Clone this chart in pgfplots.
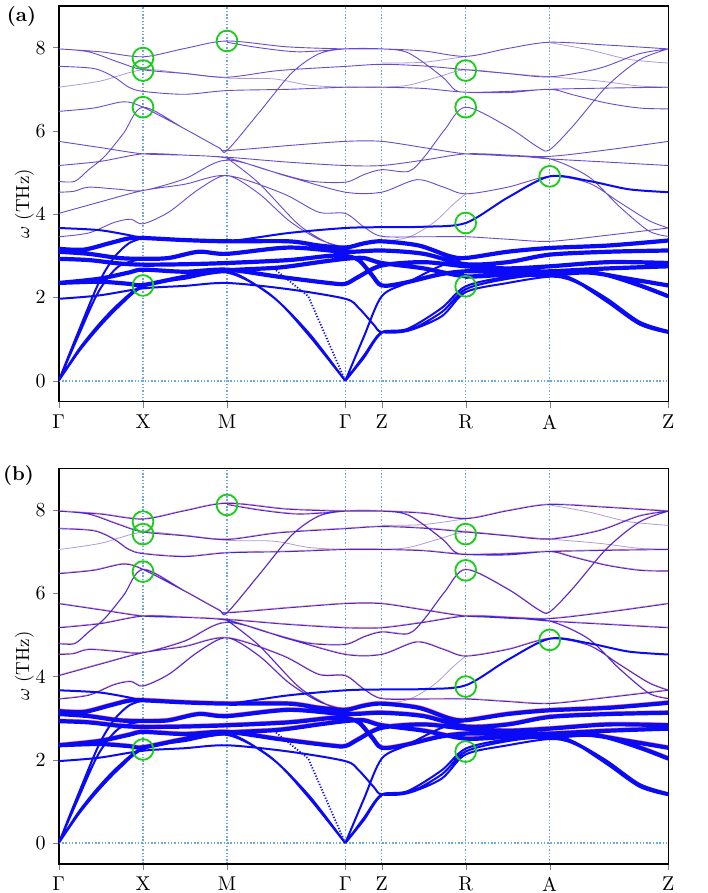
\documentclass[border=0pt]{standalone}
\usepackage{pgfplots}
\usepackage{pgfplotstable}
\pgfplotsset{compat=1.18}
\definecolor{thickblue}{RGB}{10,10,245}
\definecolor{bandpurple}{RGB}{105,75,205}
\definecolor{bandfaint}{RGB}{175,155,215}
\definecolor{gridblue}{RGB}{110,170,220}
\definecolor{ringgreen}{RGB}{25,205,25}

% upper optical branches (thin)
\pgfplotstableread{
s f
0 7.97
42 7.9
84.3 7.78
126 7.98
168.3 8.16
228 8.02
286.6 7.97
323 7.97
365 7.92
407 7.79
449 7.98
491 8.13
550 8.06
609.6 7.97
nan nan
168.3 8.13
200 8.0
240 7.9
286.6 7.97
nan nan
0 7.97
30 7.9
60 7.65
84.3 7.47
126 7.38
168.3 7.29
220 7.45
286.6 7.55
323 7.6
365 7.56
407 7.47
449 7.38
491 7.3
540 7.5
580 7.85
609.6 7.97
nan nan
0 7.55
35 7.5
55 7.3
70 7.05
84.3 6.95
126 6.88
168.3 6.97
230 7.0
286.6 7.05
323 7.05
365 7.02
407 6.93
449 6.95
491 7.0
550 7.03
609.6 7.05
nan nan
0 6.47
35 6.55
65 6.7
84.3 6.57
126 6.05
160 5.6
168.3 5.53
200 6.43
233 7.39
260 7.85
286.6 7.97
323 7.97
350 7.87
383 7.31
396 6.99
407 6.93
449 6.92
491 7.0
514 6.87
548 6.67
581 6.55
609.6 6.53
nan nan
0 4.79
16 4.79
30 5.07
46 5.39
65 5.95
84.3 6.57
126 6.05
160 5.6
168.3 5.53
230 5.65
286.6 5.75
323 5.75
365 5.6
407 5.45
449 5.42
491 5.39
550 5.55
609.6 5.75
nan nan
0 5.75
42 5.6
84.3 5.45
126 5.42
168.3 5.37
230 5.25
286.6 5.17
323 5.17
365 5.3
407 5.45
449 5.42
491 5.33
550 5.25
609.6 5.17
nan nan
0 5.17
42 5.27
84.3 5.45
126 5.42
168.3 5.35
210 5.05
250 4.8
286.6 4.77
305 4.95
323 5.07
350 5.03
366 5.39
386 6.03
407 6.57
449 6.1
480 5.6
491 5.55
514 6.11
548 7.07
581 7.71
609.6 7.97
nan nan
0 4.53
15 4.55
30 4.65
60 4.6
84.3 4.57
126 4.85
168.3 5.3
230 4.9
286.6 4.53
323 4.53
358 4.83
385 4.65
407 4.49
449 4.65
491 4.91
530 4.75
560 4.3
590 3.85
609.6 3.67
nan nan
0 4.02
42 4.3
84.3 4.57
126 4.72
168.3 4.93
224 4.5
260 4.05
286.6 4.02
305 3.7
323 3.47
365 3.46
407 3.46
449 3.4
491 3.35
550 3.5
609.6 3.67
nan nan
0 3.46
30 3.55
55 3.8
72 3.88
84.3 3.77
110 4.05
140 4.6
168.3 4.93
200 4.5
230 3.85
260 3.4
286.6 3.2
nan nan
168.3 5.35
200 4.75
240 3.75
270 3.3
286.6 3.17
nan nan
407 5.45
449 5.4
491 5.33
530 4.9
560 4.2
590 3.6
609.6 3.47
nan nan
}\thinbands

% faint branches
\pgfplotstableread{
s f
0 7.05
42 7.2
84.3 7.47
126 7.38
168.3 7.27
215 7.25
250 7.1
286.6 7.05
323 7.05
350 7.1
380 7.3
407 7.47
449 7.38
491 7.3
540 7.2
580 7.08
609.6 7.05
nan nan
323 7.63
365 7.65
407 7.79
nan nan
491 8.12
530 7.95
570 7.72
609.6 7.63
nan nan
323 3.35
350 3.45
375 3.8
395 4.25
407 4.49
nan nan
}\faintbands

% dense low branches (thick)
\pgfplotstableread{
s f
0 3.17
25 3.15
50 3.3
70 3.42
84.3 3.43
126 3.38
168.3 3.35
230 3.35
260 3.25
286.6 3.2
305 3.3
323 3.35
360 3.25
390 3.0
407 2.95
449 3.1
491 3.19
550 3.25
609.6 3.37
nan nan
0 3.1
30 3.05
60 2.95
84.3 2.93
110 2.95
140 3.1
168.3 3.05
230 3.2
286.6 3.1
323 3.13
365 3.05
407 2.8
449 2.85
491 3.03
550 3.1
609.6 3.13
nan nan
0 2.93
30 2.9
60 2.82
84.3 2.79
126 2.8
168.3 2.83
230 2.9
270 3.0
286.6 3.0
300 2.9
313 2.55
323 2.29
345 2.35
380 2.55
407 2.63
449 2.62
491 2.63
550 2.7
609.6 2.75
nan nan
0 2.35
40 2.45
70 2.6
84.3 2.67
126 2.62
168.3 2.67
220 2.5
270 2.35
286.6 2.33
300 2.5
323 2.77
365 2.85
407 2.75
449 2.7
491 2.75
550 2.85
609.6 2.83
nan nan
0 2.35
40 2.38
70 2.33
84.3 2.3
126 2.5
168.3 2.65
220 2.72
260 2.85
286.6 2.93
305 2.95
323 2.83
365 2.7
407 2.51
449 2.55
491 2.55
530 2.6
570 2.45
609.6 2.29
nan nan
407 2.5
449 2.55
491 2.6
540 2.58
580 2.3
609.6 2.03
nan nan
}\thickbands

% acoustic and low branches (medium)
\pgfplotstableread{
s f
0 3.67
40 3.62
70 3.5
84.3 3.43
126 3.38
168.3 3.35
230 3.55
286.6 3.67
323 3.69
365 3.7
407 3.79
449 4.4
491 4.91
530 4.8
570 4.6
609.6 4.53
nan nan
0 1.97
40 2.05
84.3 2.22
126 2.28
168.3 2.35
230 2.2
286.6 1.97
300 1.75
315 1.35
323 1.17
349 1.2
383 1.55
407 2.13
449 2.35
491 2.5
514 2.4
548 1.95
581 1.4
609.6 1.17
nan nan
0 0
20 0.75
40 1.35
60 1.85
84.3 2.29
126 2.45
168.3 2.6
210 2.1
250 1.15
286.6 0
nan nan
286.6 0
305 0.6
323 1.17
349 1.2
383 1.65
407 2.2
449 2.45
491 2.55
514 2.42
548 1.9
581 1.35
609.6 1.15
nan nan
0 0
20 0.7
40 1.28
60 1.78
84.3 2.26
126 2.5
168.3 2.65
215 2.0
250 1.1
286.6 0
nan nan
286.6 0
305 0.55
323 1.15
349 1.25
383 1.75
407 2.27
449 2.5
491 2.6
514 2.45
548 1.98
581 1.42
609.6 1.2
nan nan
0 0
20 1.2
40 2.35
55 2.95
70 3.3
84.3 3.43
nan nan
0 0
20 1.1
40 2.15
60 2.75
84.3 2.93
nan nan
286.6 0
305 1.05
323 2.03
348 2.35
381 2.75
407 2.95
nan nan
}\acousticbands

\pgfplotstableread{
s f
215 2.7
249.6 2.03
286.6 0
}\dottedLA

\pgfplotsset{
  bandaxis/.style={
    scale only axis, width=304.8pt, height=197.85pt,
    xmin=0, xmax=609.6, ymin=-0.5, ymax=9,
    xtick={0,84.3,168.3,286.6,323,407,491,609.6},
    xticklabels={$\Gamma$,X,M,$\Gamma$,Z,R,A,Z},
    ytick={0,2,4,6,8},
    tick align=outside, xtick pos=bottom, ytick pos=left,
    major tick length=3pt,
    xmajorgrids,
    grid style={gridblue, line width=0.75pt, dash pattern=on 0.75pt off 0.9pt},
    extra y ticks={0}, extra y tick labels={},
    extra y tick style={grid=major, major tick length=0pt},
    axis line style={line width=0.8pt},
    ylabel={$\omega$ (THz)}, ylabel style={font=\fontsize{9.5}{11}\selectfont},
    ylabel shift=-9pt,
    unbounded coords=jump,
  },
  thinband/.style={bandpurple, line width=0.45pt, smooth, tension=0.5},
  faintband/.style={bandfaint, line width=0.4pt, smooth, tension=0.5},
  thickband/.style={thickblue, line width=2.1pt, smooth, tension=0.5},
  midband/.style={thickblue, line width=1.0pt, smooth, tension=0.5},
  ring/.style={only marks, mark=o, mark size=5.2pt, ringgreen, mark options={line width=0.9pt}},
}

\begin{document}
\begin{tikzpicture}
\useasboundingbox (0,0) rectangle (353.5pt,-446.5pt);
\node[font=\bfseries] at (10.75pt,-8pt) {(a)};
\node[font=\bfseries] at (9.25pt,-237.5pt) {(b)};

\begin{axis}[bandaxis, at={(29.35pt,-3pt)}, anchor=north west]
  \addplot[faintband] table[x=s, y=f] {\faintbands};
  \addplot[thinband] table[x=s, y=f] {\thinbands};
  \addplot[thickband] table[x=s, y=f] {\thickbands};
  \addplot[midband] table[x=s, y=f] {\acousticbands};
  \addplot[thickblue, line width=0.9pt, dash pattern=on 0.6pt off 0.9pt] table[x=s, y=f] {\dottedLA};
  \addplot[ring] coordinates {(84.3,7.75) (84.3,7.45) (84.3,6.57) (84.3,2.29)
    (168.3,8.16) (407,7.45) (407,6.57) (407,3.79) (407,2.27) (491,4.91)};
\end{axis}

\begin{axis}[bandaxis, at={(29.35pt,-234.15pt)}, anchor=north west]
  \addplot[faintband] table[x=s, y=f] {\faintbands};
  \addplot[red!85!white, line width=0.35pt, smooth, tension=0.5, yshift=0.35pt, opacity=0.6] table[x=s, y=f] {\thinbands};
  \addplot[thinband, bandpurple!55!blue] table[x=s, y=f] {\thinbands};
  \addplot[red, line width=2.1pt, smooth, tension=0.5, yshift=0.3pt, opacity=0.45] table[x=s, y=f] {\thickbands};
  \addplot[thickband] table[x=s, y=f] {\thickbands};
  \addplot[midband] table[x=s, y=f] {\acousticbands};
  \addplot[thickblue, line width=0.9pt, dash pattern=on 0.6pt off 0.9pt] table[x=s, y=f] {\dottedLA};
  \addplot[ring] coordinates {(84.3,7.72) (84.3,7.42) (84.3,6.52) (84.3,2.25)
    (168.3,8.12) (407,7.42) (407,6.55) (407,3.76) (407,2.2) (491,4.88)};
\end{axis}
\end{tikzpicture}
\end{document}
